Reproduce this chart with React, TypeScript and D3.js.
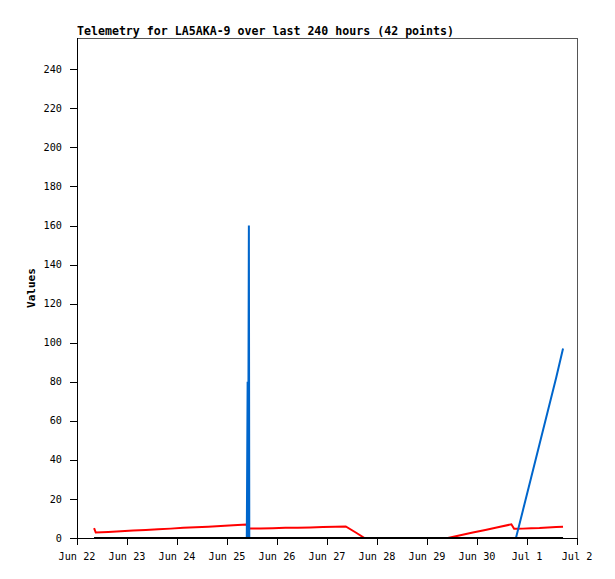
import React from "react";
import * as d3 from "d3";

// hours after Jun 22 00:00 (UTC)
const hours = [
  8.2, 9.0, 15, 21, 27, 33, 39, 45, 51, 57, 63, 69, 75, 81.5,
  81.9, 82.1, 82.5, 82.7,
  88, 94, 100, 106, 112, 118, 124, 129,
  134, 138,
  178,
  184, 190, 196, 202, 208.5,
  209.8,
  210.7, 214, 218, 222, 226, 230, 233.3,
];
const redValues = [
  5.0, 2.8, 3.1, 3.5, 3.8, 4.1, 4.5, 4.8, 5.2, 5.5, 5.8, 6.2, 6.5, 6.9,
  6.9, 5.0, 4.9, 4.9,
  4.9, 5.0, 5.2, 5.3, 5.4, 5.6, 5.7, 5.9,
  2.7, 0,
  0,
  1.4, 2.8, 4.1, 5.5, 7.0,
  4.7,
  4.7, 4.8, 5.0, 5.1, 5.4, 5.6, 5.7,
];
const blueValues = [
  0, 0, 0, 0, 0, 0, 0, 0, 0, 0, 0, 0, 0, 0,
  80, 0, 160, 0,
  0, 0, 0, 0, 0, 0, 0, 0,
  0, 0,
  0,
  0, 0, 0, 0, 0,
  0,
  0, 14, 31, 48, 65, 82, 97,
];
const blackValues = hours.map(() => 0);
const yTicks = [0, 20, 40, 60, 80, 100, 120, 140, 160, 180, 200, 220, 240];
const title = "Telemetry for LA5AKA-9 over last 240 hours (42 points)";
const yLabel = "Values";

const start = Date.UTC(2024, 5, 22);
const dates = hours.map((h) => new Date(start + h * 3600 * 1000));

export default function App() {
  const W = 615, H = 579;
  const left = 77, right = 577, top = 38, bottom = 538;
  const x = d3.scaleUtc().domain([new Date(start), new Date(start + 240 * 3600 * 1000)]).range([left, right]);
  const y = d3.scaleLinear().domain([0, 256]).range([bottom, top]);
  const xTicks = x.ticks(d3.utcDay.every(1)!);
  const fmt = d3.utcFormat("%b %-d");
  const mk = (vals: number[]) =>
    d3.line<number>().x((_, i) => x(dates[i])).y((v) => y(v))(vals) || "";
  const font = "'DejaVu Sans Mono', 'Liberation Mono', monospace";
  return (
    <svg width={W} height={H} style={{ position: "absolute", left: 0, top: 0, background: "#fff" }} fontFamily={font}>
      <rect x={0} y={0} width={W} height={H} fill="#fff" />
      <text x={left} y={35} fontSize={11.6} fontWeight="bold" fill="#000" textLength={377} lengthAdjust="spacing">{title}</text>
      {/* frame */}
      <line x1={left} x2={right} y1={top + 0.5} y2={top + 0.5} stroke="#555" />
      <line x1={right + 0.5} x2={right + 0.5} y1={top} y2={bottom} stroke="#555" />
      <line x1={left + 0.5} x2={left + 0.5} y1={top} y2={bottom} stroke="#000" />
      <line x1={left} x2={right} y1={bottom + 0.5} y2={bottom + 0.5} stroke="#000" />
      {yTicks.map((t) => (
        <g key={t}>
          <line x1={left - 7} x2={left} y1={Math.round(y(t)) + 0.5} y2={Math.round(y(t)) + 0.5} stroke="#000" />
          <text x={62} y={y(t)} dy="0.35em" textAnchor="end" fontSize={10.2} fill="#000">{t}</text>
        </g>
      ))}
      {xTicks.map((t) => (
        <g key={+t}>
          <line x1={Math.round(x(t)) + 0.5} x2={Math.round(x(t)) + 0.5} y1={bottom} y2={bottom + 7} stroke="#000" />
          <text x={x(t)} y={560} textAnchor="middle" fontSize={10.2} fill="#000">{fmt(t)}</text>
        </g>
      ))}
      <text transform={`translate(35,${(top + bottom) / 2}) rotate(-90)`} textAnchor="middle" fontSize={11} fontWeight="bold" fill="#000">{yLabel}</text>
      <path d={mk(redValues)} fill="none" stroke="#ff0000" strokeWidth={2} />
      <path d={mk(blueValues)} fill="none" stroke="#0066cc" strokeWidth={2} />
      <path d={mk(blackValues)} fill="none" stroke="#000" strokeWidth={2} />
    </svg>
  );
}
